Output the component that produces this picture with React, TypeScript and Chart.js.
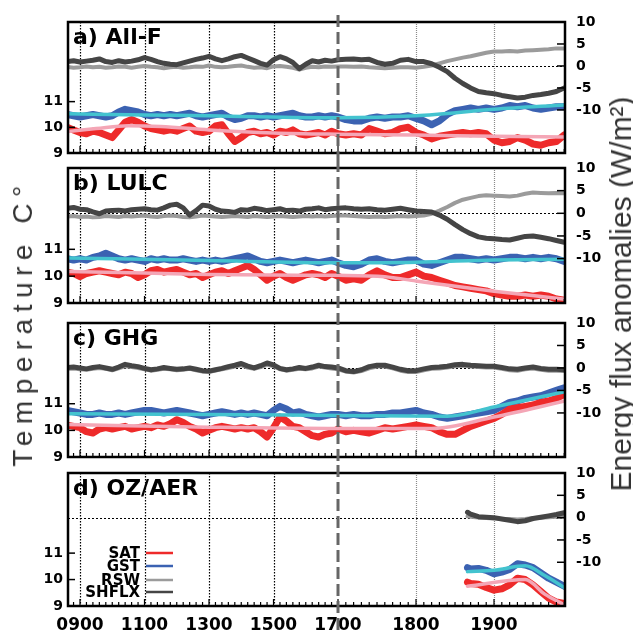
import React, { useEffect, useRef } from "react";
import { Chart, registerables } from "chart.js";
Chart.register(...registerables);

// ---------- DATA ----------
const YEARS = [860, 880, 900, 920, 940, 960, 980, 1000, 1020, 1040, 1060, 1080, 1100, 1120, 1140, 1160, 1180, 1200, 1220, 1240, 1260, 1280, 1300, 1320, 1340, 1360, 1380, 1400, 1420, 1440, 1460, 1480, 1500, 1520, 1540, 1560, 1580, 1600, 1620, 1640, 1660, 1680, 1700,
  1710, 1720, 1730, 1740, 1750, 1760, 1770, 1780, 1790, 1800, 1810, 1820, 1830, 1840, 1850, 1860, 1870, 1880, 1890, 1900, 1910, 1920, 1930, 1940, 1950, 1960, 1970, 1980, 1990];

// a) All-F
const A_SAT = [10.0, 9.9, 9.8, 9.75, 9.85, 9.8, 9.7, 9.6, 9.9, 10.2, 10.3, 10.2, 10.05, 9.95, 9.9, 9.85, 9.9, 9.85, 9.95, 10.05, 9.85, 9.8, 9.85, 10.05, 10.1, 9.75, 9.45, 9.6, 9.8, 9.85, 9.75, 9.8, 9.7, 9.85, 9.8, 9.9, 9.75, 9.7, 9.75, 9.8, 9.7, 9.85, 9.75,
  9.7, 9.75, 9.7, 9.95, 9.85, 9.75, 9.8, 9.95, 10.0, 9.8, 9.7, 9.55, 9.65, 9.7, 9.75, 9.8, 9.75, 9.8, 9.75, 9.5, 9.4, 9.45, 9.6, 9.5, 9.35, 9.3, 9.4, 9.45, 9.7];
const A_GST = [10.5, 10.45, 10.4, 10.45, 10.5, 10.45, 10.4, 10.45, 10.6, 10.7, 10.65, 10.6, 10.5, 10.45, 10.5, 10.45, 10.5, 10.45, 10.5, 10.55, 10.45, 10.4, 10.45, 10.5, 10.55, 10.4, 10.3, 10.35, 10.45, 10.45, 10.4, 10.45, 10.4, 10.45, 10.5, 10.55, 10.45, 10.4, 10.4, 10.45, 10.4, 10.45, 10.4,
  10.3, 10.25, 10.25, 10.35, 10.4, 10.35, 10.4, 10.4, 10.45, 10.35, 10.25, 10.1, 10.25, 10.5, 10.65, 10.7, 10.75, 10.7, 10.75, 10.7, 10.75, 10.85, 10.8, 10.85, 10.75, 10.7, 10.75, 10.8, 10.8];
const A_RSW = [-0.2, -0.4, -0.3, -0.1, -0.3, -0.2, -0.4, -0.3, -0.1, -0.2, -0.4, -0.2, 0.0, -0.2, -0.3, -0.5, -0.3, -0.2, -0.4, -0.3, -0.1, -0.2, 0.1, -0.2, -0.3, -0.2, 0.0, 0.1, -0.2, -0.4, -0.3, -0.5, -0.1, 0.0, -0.2, -0.4, -0.8, -0.4, -0.2, -0.3, -0.1, -0.2, -0.1,
  -0.1, -0.2, -0.1, -0.3, -0.4, -0.5, -0.4, -0.3, -0.3, -0.4, -0.2, 0.1, 0.6, 1.1, 1.5, 1.9, 2.2, 2.6, 3.0, 3.3, 3.3, 3.4, 3.3, 3.5, 3.6, 3.7, 3.8, 4.0, 4.0];
const A_SHFLX = [1.0, 1.2, 0.9, 1.1, 1.3, 1.6, 1.0, 0.8, 1.2, 0.9, 1.1, 1.4, 1.9, 1.5, 1.0, 0.6, 0.4, 0.3, 0.7, 1.1, 1.5, 1.8, 2.2, 1.6, 1.2, 1.6, 2.1, 2.4, 1.8, 1.2, 0.6, 0.2, 1.4, 2.1, 1.6, 0.8, -0.6, 0.4, 1.2, 0.9, 1.3, 1.1, 1.4,
  1.5, 1.6, 1.4, 1.5, 0.8, 0.4, 0.6, 1.3, 1.5, 1.0, 1.0, 0.5, -0.3, -1.3, -2.8, -4.0, -5.0, -5.8, -6.1, -6.3, -6.7, -7.0, -7.3, -7.1, -6.7, -6.5, -6.2, -5.8, -5.0];
const A_PINK_X = [862, 950, 1050, 1150, 1300, 1500, 1700, 1800, 1900, 1991];
const A_PINK_Y = [9.84, 9.95, 10.06, 10.03, 9.9, 9.78, 9.73, 9.7, 9.65, 9.62];
const A_CYAN_X = [862, 1100, 1300, 1500, 1700, 1800, 1900, 1991];
const A_CYAN_Y = [10.53, 10.48, 10.45, 10.4, 10.37, 10.45, 10.7, 10.87];

// b) LULC
const B_SAT = [10.15, 10.1, 9.98, 10.1, 10.15, 10.2, 10.15, 10.1, 10.05, 10.15, 10.1, 9.95, 10.05, 10.2, 10.25, 10.15, 10.2, 10.25, 10.15, 10.05, 10.1, 9.95, 10.05, 10.15, 10.2, 10.1, 10.2, 10.3, 10.4, 10.25, 10.05, 9.85, 10.0, 10.1, 9.95, 9.85, 9.95, 10.05, 10.1, 10.05, 9.95, 10.1, 10.0,
  9.85, 9.9, 9.85, 10.05, 10.2, 10.05, 9.95, 9.95, 10.05, 10.15, 10.0, 9.95, 9.85, 9.75, 9.65, 9.6, 9.55, 9.5, 9.45, 9.35, 9.3, 9.25, 9.25, 9.3, 9.25, 9.3, 9.25, 9.15, 9.1];
const B_GST = [10.65, 10.6, 10.65, 10.6, 10.7, 10.75, 10.85, 10.75, 10.65, 10.6, 10.65, 10.6, 10.55, 10.65, 10.6, 10.65, 10.6, 10.6, 10.65, 10.6, 10.55, 10.6, 10.55, 10.6, 10.55, 10.6, 10.65, 10.7, 10.75, 10.65, 10.55, 10.5, 10.55, 10.6, 10.55, 10.5, 10.55, 10.6, 10.55, 10.5, 10.55, 10.6, 10.5,
  10.4, 10.35, 10.45, 10.6, 10.65, 10.55, 10.5, 10.55, 10.6, 10.6, 10.45, 10.4, 10.5, 10.6, 10.7, 10.7, 10.65, 10.6, 10.65, 10.6, 10.65, 10.7, 10.7, 10.65, 10.7, 10.65, 10.7, 10.65, 10.55];
const B_RSW = [-0.7, -0.6, -0.8, -0.7, -0.9, -0.8, -0.6, -0.7, -0.8, -0.6, -0.7, -0.6, -0.5, -0.7, -0.8, -0.6, -0.5, -0.6, -0.8, -0.9, -0.7, -0.5, -0.6, -0.7, -0.8, -0.7, -0.6, -0.7, -0.8, -0.6, -0.7, -0.8, -0.7, -0.6, -0.7, -0.8, -0.7, -0.6, -0.7, -0.6, -0.7, -0.6, -0.5,
  -0.5, -0.6, -0.7, -0.8, -0.7, -0.8, -0.7, -0.6, -0.7, -0.6, -0.5, -0.1, 0.6, 1.4, 2.3, 3.0, 3.4, 3.8, 4.0, 3.9, 3.8, 3.7, 3.9, 4.3, 4.6, 4.5, 4.4, 4.5, 4.4];
const B_SHFLX = [1.1, 1.3, 0.9, 0.8, 0.3, -0.1, 0.5, 0.6, 0.7, 0.5, 0.8, 0.9, 1.0, 0.8, 0.7, 1.2, 1.8, 2.0, 1.2, -0.4, 0.6, 1.8, 1.6, 0.9, 0.5, 0.4, 0.2, 0.8, 0.7, 1.1, 0.9, 0.6, 0.8, 1.0, 0.6, 0.7, 0.5, 0.9, 1.0, 1.2, 0.8, 1.0, 1.1,
  1.2, 1.0, 0.9, 1.0, 0.8, 0.7, 0.9, 1.1, 0.8, 0.5, 0.4, 0.3, -0.4, -1.3, -2.5, -3.6, -4.5, -5.2, -5.5, -5.6, -5.8, -5.9, -5.5, -5.1, -5.0, -5.3, -5.6, -6.0, -6.4];
const B_PINK_X = [862, 1100, 1300, 1500, 1700, 1760, 1800, 1900, 1991];
const B_PINK_Y = [10.17, 10.12, 10.06, 10.04, 10.03, 9.98, 9.82, 9.44, 9.14];
const B_CYAN_X = [862, 1300, 1700, 1800, 1900, 1991];
const B_CYAN_Y = [10.68, 10.58, 10.5, 10.52, 10.6, 10.63];

// c) GHG
const C_SAT = [10.2, 10.15, 10.1, 9.95, 9.9, 10.05, 10.1, 10.05, 10.1, 10.15, 10.05, 10.1, 10.15, 10.1, 10.2, 10.15, 10.25, 10.4, 10.3, 10.15, 10.05, 9.9, 10.0, 10.1, 10.15, 10.1, 10.05, 10.1, 10.05, 10.1, 9.95, 9.75, 10.1, 10.5, 10.35, 10.15, 10.1, 9.95, 9.8, 9.75, 9.85, 9.9, 10.05,
  9.95, 10.0, 9.95, 9.9, 10.0, 10.1, 10.05, 10.1, 10.15, 10.2, 10.15, 10.1, 9.95, 9.85, 9.85, 10.0, 10.15, 10.25, 10.35, 10.45, 10.6, 10.8, 10.85, 10.9, 10.95, 11.05, 11.1, 11.2, 11.35];
const C_GST = [10.75, 10.7, 10.65, 10.6, 10.6, 10.65, 10.6, 10.6, 10.65, 10.6, 10.65, 10.7, 10.75, 10.75, 10.7, 10.65, 10.7, 10.75, 10.7, 10.65, 10.6, 10.55, 10.6, 10.65, 10.7, 10.65, 10.6, 10.65, 10.6, 10.65, 10.6, 10.55, 10.75, 10.9, 10.8, 10.65, 10.7, 10.6, 10.55, 10.5, 10.55, 10.6, 10.6,
  10.55, 10.6, 10.55, 10.55, 10.6, 10.6, 10.65, 10.65, 10.7, 10.75, 10.65, 10.6, 10.5, 10.45, 10.5, 10.55, 10.6, 10.65, 10.7, 10.75, 10.9, 11.05, 11.1, 11.2, 11.25, 11.3, 11.4, 11.5, 11.6];
const C_RSW = [-0.2, -0.1, -0.3, -0.4, -0.2, 0.0, -0.2, -0.5, -0.1, 0.4, 0.2, 0.0, -0.3, -0.6, -0.4, -0.2, -0.3, -0.5, -0.4, -0.2, -0.5, -0.8, -0.9, -0.6, -0.3, 0.0, 0.3, 0.6, 0.1, -0.2, 0.2, 0.7, 0.4, -0.3, -0.6, -0.4, -0.2, -0.3, -0.1, 0.3, 0.1, -0.1, -0.3,
  -0.8, -1.0, -0.7, -0.1, 0.3, 0.3, -0.1, -0.6, -0.9, -0.9, -0.5, -0.2, -0.1, 0.1, 0.4, 0.5, 0.3, 0.2, 0.1, 0.1, -0.2, -0.5, -0.6, -0.3, -0.1, -0.4, -0.6, -0.6, -0.7];
const C_SHFLX = [0.1, 0.2, 0.0, -0.2, 0.1, 0.3, 0.0, -0.3, 0.2, 0.8, 0.5, 0.3, -0.1, -0.4, -0.2, 0.1, -0.1, -0.3, -0.2, 0.0, -0.3, -0.6, -0.7, -0.4, -0.1, 0.3, 0.6, 1.0, 0.4, 0.0, 0.5, 1.1, 0.7, -0.1, -0.4, -0.2, 0.1, -0.1, 0.2, 0.6, 0.3, 0.2, 0.0,
  -0.6, -0.8, -0.4, 0.3, 0.6, 0.6, 0.2, -0.3, -0.6, -0.6, -0.2, 0.1, 0.2, 0.4, 0.7, 0.8, 0.6, 0.5, 0.4, 0.4, 0.1, -0.2, -0.3, 0.0, 0.2, -0.1, -0.3, -0.3, -0.4];
const C_PINK_X = [862, 1300, 1700, 1820, 1900, 1991];
const C_PINK_Y = [10.22, 10.12, 10.07, 10.07, 10.5, 11.1];
const C_CYAN_X = [862, 1300, 1700, 1840, 1900, 1991];
const C_CYAN_Y = [10.62, 10.6, 10.56, 10.53, 10.88, 11.45];

// d) OZ/AER
const D_YEARS = [1866, 1870, 1880, 1890, 1900, 1910, 1920, 1930, 1940, 1950, 1960, 1970, 1980, 1990];
const D_SAT = [9.9, 9.85, 9.82, 9.7, 9.6, 9.65, 9.8, 10.05, 10.0, 9.8, 9.55, 9.3, 9.15, 9.1];
const D_GST = [10.45, 10.4, 10.42, 10.35, 10.22, 10.28, 10.38, 10.6, 10.55, 10.45, 10.25, 10.05, 9.9, 9.75];
const D_RSW = [0.3, 0.2, 0.0, -0.1, -0.2, -0.3, -0.3, -0.4, -0.3, -0.1, 0.0, 0.1, 0.2, 0.2];
const D_SHFLX = [1.2, 0.8, 0.2, 0.1, 0.0, -0.3, -0.6, -0.9, -0.7, -0.2, 0.1, 0.4, 0.7, 1.1];
const D_PINK_X = [1866, 1940, 1965, 1991];
const D_PINK_Y = [9.75, 10.0, 9.45, 9.03];
const D_CYAN_X = [1866, 1900, 1940, 1965, 1991];
const D_CYAN_Y = [10.3, 10.35, 10.52, 10.15, 9.68];

const MAJOR_YEARS = [900, 1100, 1300, 1500, 1700, 1800, 1900];
const TEMP_TICKS = [9, 10, 11];
const FLUX_TICKS = [-10, -5, 0, 5, 10];
const LEGEND_LABELS = ["SAT", "GST", "RSW", "SHFLX"];

// ---------- STYLE ----------
const RED = "#ee2a2a";
const BLUE = "#3b62b2";
const PINK = "#f4a6b6";
const CYAN = "#43c3cf";
const DARK = "#454545";
const LIGHT = "#9b9b9b";
const LEGEND_COLORS = [RED, BLUE, LIGHT, DARK];
const FONT = '"DejaVu Sans", "Liberation Sans", sans-serif';

// broken time axis: stretched after 1700
const STRETCH = 78 / 32.25;
const toU = (yr: number) => (yr <= 1700 ? yr : 1700 + (yr - 1700) * STRETCH);
const fromU = (u: number) => (u <= 1700 ? u : 1700 + (u - 1700) / STRETCH);
const X_MIN = 862.8;
const X_MAX = toU(1991);

const MINOR_YEARS: number[] = [];
for (let y = 880; y <= 1700; y += 20) MINOR_YEARS.push(y);
for (let y = 1710; y <= 1990; y += 10) MINOR_YEARS.push(y);

const pts = (xs: number[], ys: number[]) => {
  const n = Math.min(xs.length, ys.length);
  const out: { x: number; y: number }[] = [];
  for (let i = 0; i < n; i++) out.push({ x: toU(xs[i]), y: ys[i] });
  return out;
};

type PanelCfg = {
  title: string;
  top: number;
  height: number;
  padTop: number;
  padBottom: number;
  tMax: number;
  years: number[];
  sat: number[];
  gst: number[];
  rsw: number[];
  shflx: number[];
  pinkX: number[];
  pinkY: number[];
  cyanX: number[];
  cyanY: number[];
  showX: boolean;
  legend: boolean;
  dashTop: number;
};

const PANELS: PanelCfg[] = [
  { title: "a) All-F", top: 0, height: 160, padTop: 22, padBottom: 7, tMax: 14.1, years: YEARS, sat: A_SAT, gst: A_GST, rsw: A_RSW, shflx: A_SHFLX, pinkX: A_PINK_X, pinkY: A_PINK_Y, cyanX: A_CYAN_X, cyanY: A_CYAN_Y, showX: false, legend: false, dashTop: 15 },
  { title: "b) LULC", top: 160, height: 153, padTop: 8, padBottom: 10, tMax: 14.03, years: YEARS, sat: B_SAT, gst: B_GST, rsw: B_RSW, shflx: B_SHFLX, pinkX: B_PINK_X, pinkY: B_PINK_Y, cyanX: B_CYAN_X, cyanY: B_CYAN_Y, showX: false, legend: false, dashTop: 0 },
  { title: "c) GHG", top: 313, height: 152, padTop: 10, padBottom: 8, tMax: 14.03, years: YEARS, sat: C_SAT, gst: C_GST, rsw: C_RSW, shflx: C_SHFLX, pinkX: C_PINK_X, pinkY: C_PINK_Y, cyanX: C_CYAN_X, cyanY: C_CYAN_Y, showX: false, legend: false, dashTop: 0 },
  { title: "d) OZ/AER", top: 465, height: 168, padTop: 8, padBottom: 0, tMax: 14.03, years: D_YEARS, sat: D_SAT, gst: D_GST, rsw: D_RSW, shflx: D_SHFLX, pinkX: D_PINK_X, pinkY: D_PINK_Y, cyanX: D_CYAN_X, cyanY: D_CYAN_Y, showX: true, legend: true, dashTop: 0 },
];

function ds(label: string, data: any[], color: string, width: number, axis: string, smooth: boolean) {
  return {
    label,
    data,
    borderColor: color,
    backgroundColor: color,
    borderWidth: width,
    pointRadius: 0,
    yAxisID: axis,
    fill: false,
    tension: 0,
    cubicInterpolationMode: smooth ? "monotone" : "default",
    borderJoinStyle: "round",
    borderCapStyle: "round",
  };
}

function seg(ctx: CanvasRenderingContext2D, x1: number, y1: number, x2: number, y2: number) {
  ctx.beginPath();
  ctx.moveTo(x1, y1);
  ctx.lineTo(x2, y2);
  ctx.stroke();
}

function buildConfig(cfg: PanelCfg): any {
  const decor = {
    id: "decor",
    beforeDatasetsDraw(chart: any) {
      const { ctx, chartArea: ca, scales } = chart;
      const x = scales.x;
      const y2 = scales.y2;
      ctx.save();
      ctx.lineWidth = 1.2;
      for (const yr of MAJOR_YEARS) {
        if (yr === 1700) continue;
        const px = Math.round(x.getPixelForValue(toU(yr))) + 0.5;
        ctx.strokeStyle = yr < 1700 ? "#000" : "#8a8a8a";
        ctx.setLineDash(yr < 1700 ? [1.5, 1.5] : [1, 1]);
        seg(ctx, px, ca.top, px, ca.bottom);
      }
      const pz = Math.round(y2.getPixelForValue(0)) + 0.5;
      ctx.strokeStyle = "#000";
      ctx.lineWidth = 1;
      ctx.setLineDash([2, 2]);
      seg(ctx, ca.left, pz, ca.right, pz);
      ctx.restore();
    },
    afterDraw(chart: any) {
      const { ctx, chartArea: ca, scales } = chart;
      const x = scales.x, y = scales.y, y2 = scales.y2;
      ctx.save();
      ctx.setLineDash([]);
      ctx.strokeStyle = "#000";
      ctx.lineWidth = 1.2;
      for (const yr of MINOR_YEARS) {
        const px = x.getPixelForValue(toU(yr));
        const len = MAJOR_YEARS.includes(yr) ? 7 : 4;
        seg(ctx, px, ca.bottom, px, ca.bottom - len);
      }
      ctx.lineWidth = 1.5;
      for (const v of [10, 11]) {
        const py = y.getPixelForValue(v);
        seg(ctx, ca.left, py, ca.left + 7, py);
      }
      for (const v of [-10, -5, 0, 5]) {
        const py = y2.getPixelForValue(v);
        seg(ctx, ca.right - 8, py, ca.right, py);
      }
      ctx.lineWidth = 2.5;
      ctx.strokeRect(ca.left, ca.top, ca.right - ca.left, ca.bottom - ca.top);
      ctx.fillStyle = "#000";
      ctx.font = `bold 22px ${FONT}`;
      ctx.textAlign = "left";
      ctx.textBaseline = "alphabetic";
      ctx.fillText(cfg.title, ca.left + 5, ca.top + 22);
      if (cfg.legend) {
        const offs = [-53, -40, -26, -14];
        ctx.font = `bold 15px ${FONT}`;
        ctx.textAlign = "right";
        ctx.textBaseline = "middle";
        LEGEND_LABELS.forEach((t, i) => {
          const yy = ca.bottom + offs[i];
          ctx.fillStyle = "#000";
          ctx.fillText(t, ca.left + 72, yy + 1);
          ctx.strokeStyle = LEGEND_COLORS[i];
          ctx.lineWidth = 2.5;
          seg(ctx, ca.left + 78, yy, ca.left + 105, yy);
        });
      }
      const p17 = x.getPixelForValue(toU(1700));
      ctx.strokeStyle = "#666";
      ctx.lineWidth = 3;
      ctx.setLineDash([12, 5]);
      seg(ctx, p17, cfg.dashTop, p17, chart.height);
      ctx.restore();
    },
  };

  const yTickFont = { family: FONT, weight: "bold" as const, size: 14 };

  return {
    type: "line",
    data: {
      datasets: [
        ds("SAT trend", pts(cfg.pinkX, cfg.pinkY), PINK, 3.5, "y", true),
        ds("GST trend", pts(cfg.cyanX, cfg.cyanY), CYAN, 3.5, "y", true),
        ds("SAT", pts(cfg.years, cfg.sat), RED, 7, "y", false),
        ds("GST", pts(cfg.years, cfg.gst), BLUE, 7, "y", false),
        ds("SHFLX", pts(cfg.years, cfg.shflx), DARK, 5, "y2", false),
        ds("RSW", pts(cfg.years, cfg.rsw), LIGHT, 4, "y2", false),
      ],
    },
    options: {
      responsive: false,
      maintainAspectRatio: false,
      animation: false,
      devicePixelRatio: 1,
      layout: { padding: { top: cfg.padTop, bottom: cfg.padBottom, left: 0, right: 0 } },
      plugins: { legend: { display: false }, tooltip: { enabled: false }, title: { display: false } },
      scales: {
        x: {
          type: "linear",
          display: cfg.showX,
          min: X_MIN,
          max: X_MAX,
          grid: { display: false, drawTicks: false },
          border: { display: false },
          afterBuildTicks: (s: any) => {
            s.ticks = MAJOR_YEARS.map((yr) => ({ value: toU(yr) }));
          },
          afterFit: (s: any) => {
            if (cfg.showX) s.height = 27;
            s.paddingLeft = 0;
            s.paddingRight = 0;
          },
          ticks: {
            autoSkip: false,
            maxRotation: 0,
            padding: 9,
            color: "#000",
            font: { family: FONT, weight: "bold", size: 17 },
            callback: (v: any) => String(Math.round(fromU(Number(v)))).padStart(4, "0"),
          },
        },
        y: {
          position: "left",
          min: 9,
          max: cfg.tMax,
          grid: { display: false, drawTicks: false },
          border: { display: false },
          afterBuildTicks: (s: any) => {
            s.ticks = TEMP_TICKS.map((v) => ({ value: v }));
          },
          afterFit: (s: any) => {
            s.width = 68;
            s.paddingTop = 0;
            s.paddingBottom = 0;
          },
          ticks: { autoSkip: false, padding: 5, color: "#000", font: yTickFont, callback: (v: any) => String(v) },
        },
        y2: {
          position: "right",
          min: -19.8,
          max: 10,
          grid: { display: false, drawTicks: false },
          border: { display: false },
          afterBuildTicks: (s: any) => {
            s.ticks = FLUX_TICKS.map((v) => ({ value: v }));
          },
          afterFit: (s: any) => {
            s.width = 68;
            s.paddingTop = 0;
            s.paddingBottom = 0;
          },
          ticks: { autoSkip: false, padding: 11, color: "#000", font: yTickFont, callback: (v: any) => String(v) },
        },
      },
    },
    plugins: [decor],
  };
}

function Panel({ cfg }: { cfg: PanelCfg }) {
  const ref = useRef<HTMLCanvasElement>(null);
  useEffect(() => {
    const canvas = ref.current;
    if (!canvas) return;
    const chart = new Chart(canvas, buildConfig(cfg));
    return () => chart.destroy();
  }, [cfg]);
  return (
    <canvas
      ref={ref}
      width={633}
      height={cfg.height}
      style={{ position: "absolute", left: 0, top: cfg.top, width: 633, height: cfg.height, display: "block" }}
    />
  );
}

export default function App() {
  return (
    <div style={{ position: "absolute", left: 0, top: 0, width: 633, height: 633, background: "#fff", overflow: "hidden" }}>
      {PANELS.map((p) => (
        <Panel key={p.title} cfg={p} />
      ))}
      <div
        style={{
          position: "absolute",
          left: 23.4,
          top: 323,
          transform: "translate(-50%, -50%) rotate(-90deg)",
          fontFamily: '"Liberation Sans", Arial, sans-serif',
          fontSize: 28,
          lineHeight: "28px",
          letterSpacing: 6.5,
          color: "#333",
          whiteSpace: "nowrap",
        }}
      >
        Temperature C°
      </div>
      <div
        style={{
          position: "absolute",
          left: 621,
          top: 294,
          transform: "translate(-50%, -50%) rotate(-90deg)",
          fontFamily: '"Liberation Sans", Arial, sans-serif',
          fontSize: 30,
          lineHeight: "30px",
          color: "#333",
          whiteSpace: "nowrap",
        }}
      >
        Energy flux anomalies (W/m²)
      </div>
    </div>
  );
}
